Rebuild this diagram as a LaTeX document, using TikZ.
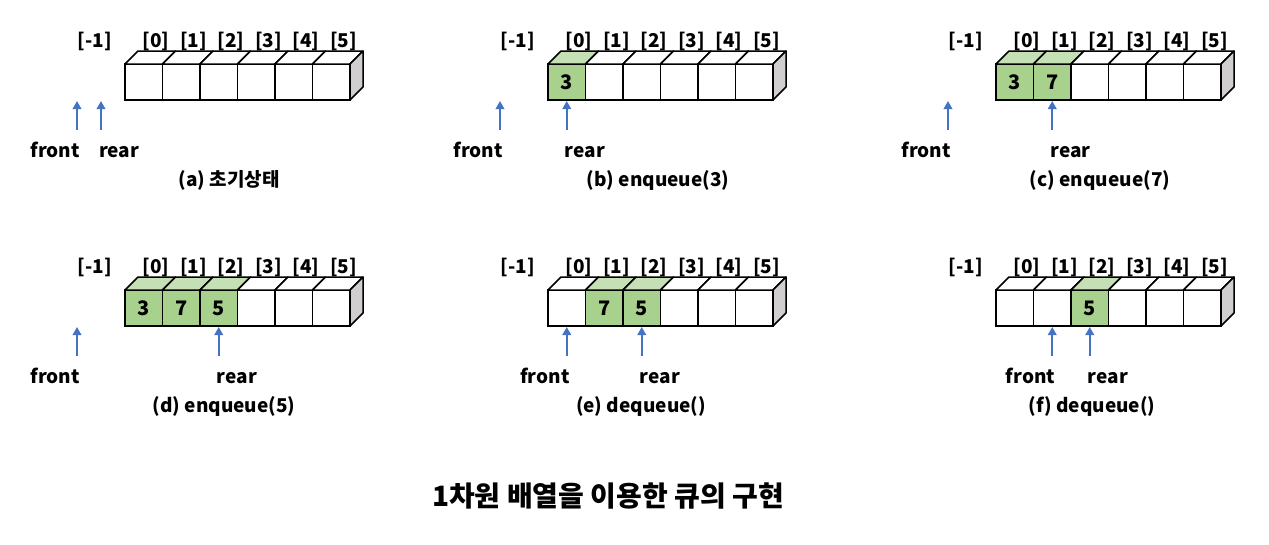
\documentclass[tikz,border=0pt]{standalone}
\usepackage{fontspec}
\setmainfont{Noto Sans CJK KR}
\usetikzlibrary{arrows.meta}

\definecolor{cellgreen}{HTML}{A9D18E}
\definecolor{topgreen}{HTML}{C5E0B4}
\definecolor{sidegray}{HTML}{D0CECE}
\definecolor{ptrblue}{HTML}{4472C4}

\tikzset{
  CellStyle/.style = {draw, line width=1.5pt, minimum width=37.5pt, minimum height=36pt,
                      inner sep=0pt, outer sep=0pt, font=\bfseries\fontsize{20}{22}\selectfont},
  Cellw/.style = {CellStyle, fill=white},
  Cellg/.style = {CellStyle, fill=cellgreen},
  Topw/.style = {draw, line width=1.5pt, line join=round, fill=white},
  Topg/.style = {draw, line width=1.5pt, line join=round, fill=topgreen},
  SideStyle/.style = {draw, line width=1.5pt, line join=round, fill=sidegray},
  IdxStyle/.style = {inner sep=0pt, font=\bfseries\fontsize{19}{21}\selectfont},
  PtrStyle/.style = {-{Triangle[length=8pt,width=8.5pt]}, ptrblue, line width=1.8pt},
  LabelStyle/.style = {inner sep=0pt, font=\bfseries\fontsize{19}{21}\selectfont},
  CaptionStyle/.style = {inner sep=0pt, anchor=base, font=\bfseries\fontsize{19}{21}\selectfont}
}

% #1 name, #2 x, #3 y, #4 cells, #5 front, #6 rear, #7 caption x, #8 caption
\newcommand{\queuepanel}[8]{%
  \begin{scope}[shift={(#2,#3)}]
    \node[IdxStyle] (#1idxm1) at (-30,-23) {[-1]};
    \foreach \s/\v [count=\i from 0] in {#4}{
      \node[Cell\s] (#1\i) at (37.5*\i+18.75,18) {\v};
      \draw[Top\s] (#1\i.north west) -- ++(13,-13) -- ++(37.5,0) -- (#1\i.north east) -- cycle;
      \node[IdxStyle] (#1idx\i) at (37.5*\i+31,-23) {[\i]};
    }
    \draw[SideStyle] (#15.north east) -- ++(13,-13) -- ++(0,36) -- (#15.south east) -- cycle;
    % pointers
    \ifnum#5<0 \coordinate (#1ftip) at (-48,37);
    \else \coordinate (#1ftip) at ([yshift=-1pt]#1#5.south); \fi
    \ifnum#6<0 \coordinate (#1rtip) at (-24,37);
    \else \coordinate (#1rtip) at ([yshift=-1pt]#1#6.south); \fi
    \coordinate (#1ftail) at (#1ftip |- 0,66);
    \coordinate (#1rtail) at (#1rtip |- 0,66);
    \draw[PtrStyle] (#1ftail) -- (#1ftip);
    \draw[PtrStyle] (#1rtail) -- (#1rtip);
    \node[LabelStyle, anchor=base east] (#1front) at ([xshift=3pt]#1ftail |- 0,93) {front};
    \node[LabelStyle, anchor=base west] (#1rear) at ([xshift=-2pt]#1rtail |- 0,93) {rear};
    \node[CaptionStyle] (#1cap) at (#7,122) {#8};
  \end{scope}}

\begin{document}
\begin{tikzpicture}[x=1pt, y=-1pt]
  \useasboundingbox (0,0) rectangle (1269,544);

  \queuepanel{a}{125}{64}{w/{},w/{},w/{},w/{},w/{},w/{}}{-1}{-1}{104}{(a) 초기상태}
  \queuepanel{b}{548}{64}{g/3,w/{},w/{},w/{},w/{},w/{}}{-1}{0}{110}{(b) enqueue(3)}
  \queuepanel{c}{996}{64}{g/3,g/7,w/{},w/{},w/{},w/{}}{-1}{1}{104}{(c) enqueue(7)}

  \queuepanel{d}{125}{290}{g/3,g/7,g/5,w/{},w/{},w/{}}{-1}{2}{99}{(d) enqueue(5)}
  \queuepanel{e}{548}{290}{w/{},g/7,g/5,w/{},w/{},w/{}}{0}{2}{93}{(e) dequeue()}
  \queuepanel{f}{996}{290}{w/{},w/{},g/5,w/{},w/{},w/{}}{1}{2}{96}{(f) dequeue()}

  \node[font=\bfseries\fontsize{28}{31}\selectfont] (title) at (608,496) {1차원 배열을 이용한 큐의 구현};
\end{tikzpicture}
\end{document}
